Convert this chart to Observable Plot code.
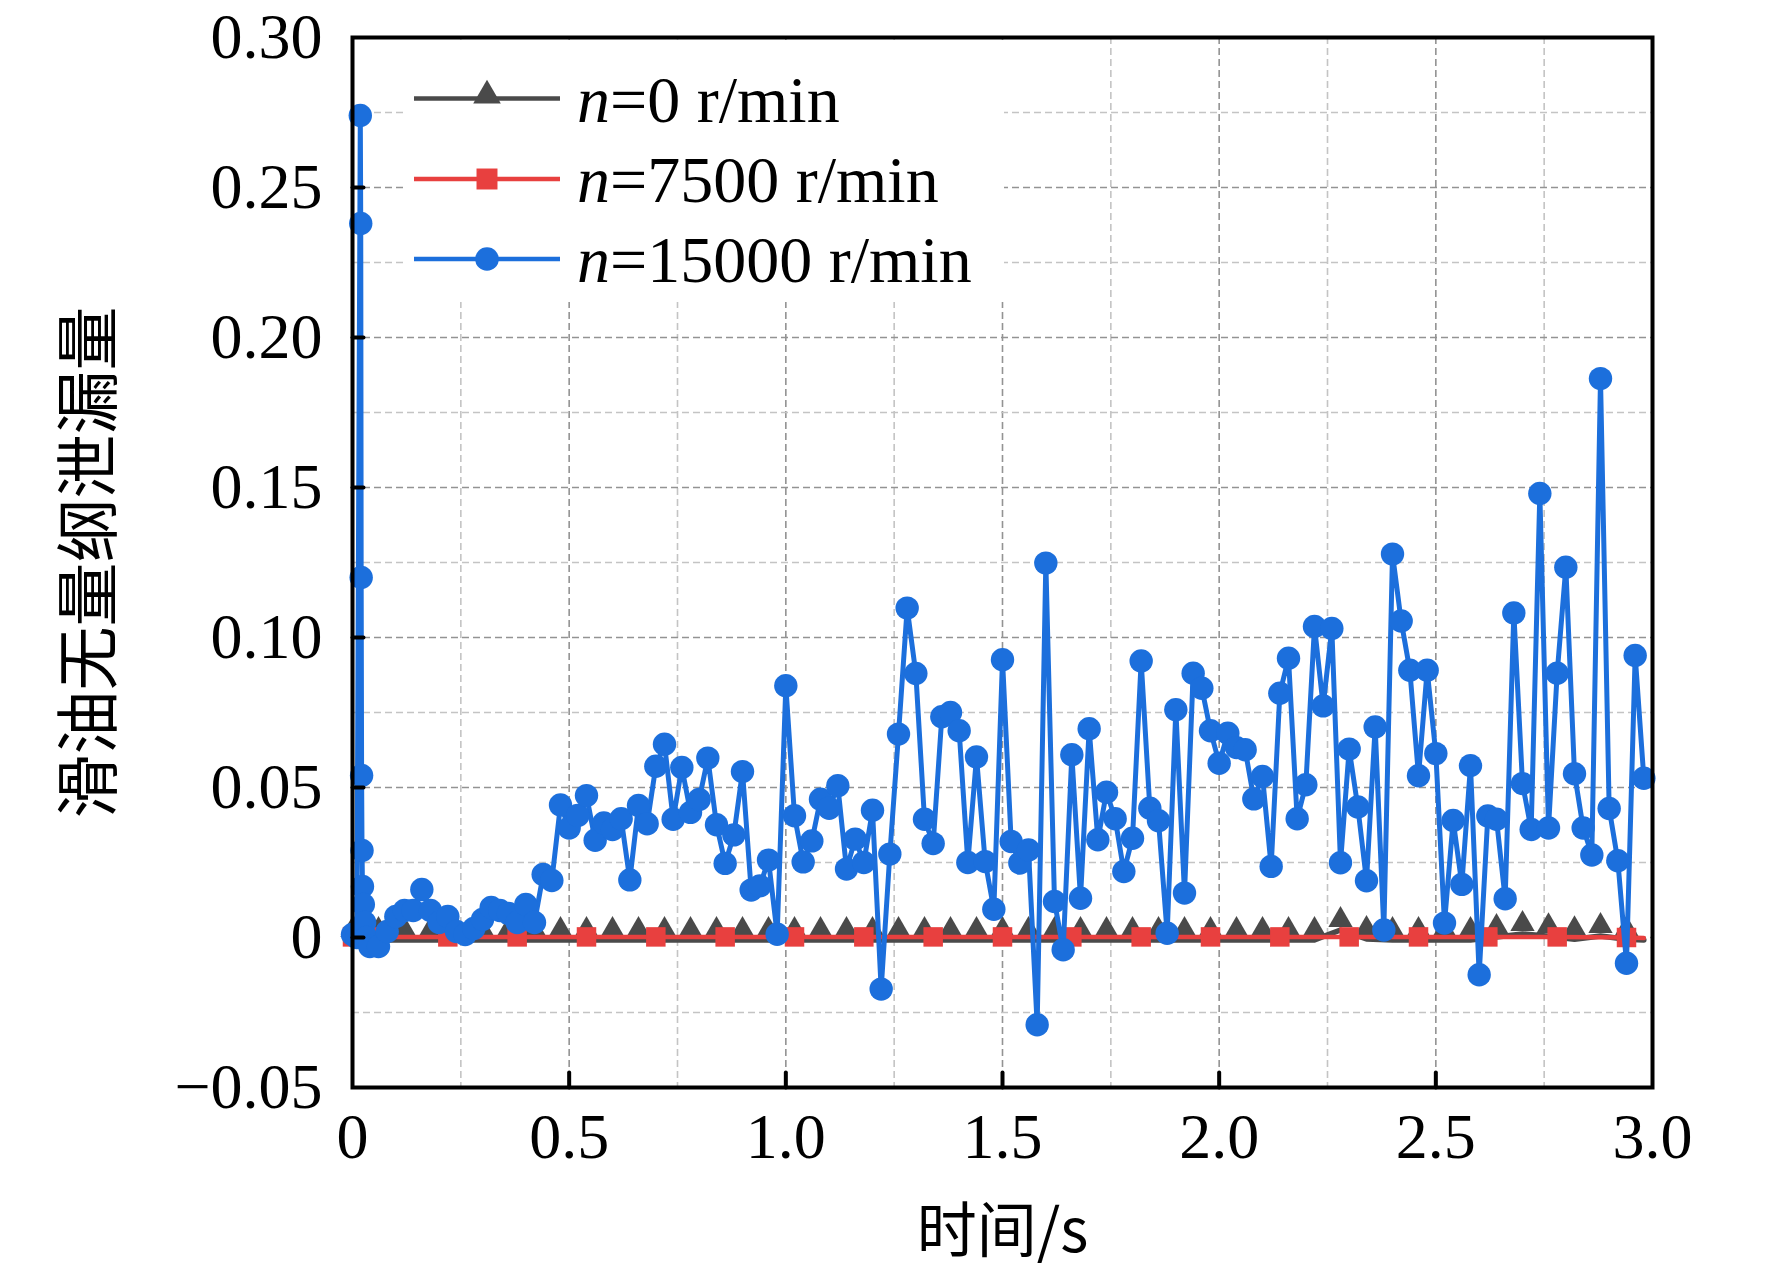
<!DOCTYPE html>
<html><head><meta charset="utf-8">
<script src="https://cdn.jsdelivr.net/npm/d3@7"></script>
<script src="https://cdn.jsdelivr.net/npm/@observablehq/plot@0.6"></script>
<style>
body{margin:0;background:#fff;}
#wrap{position:relative;width:1772px;height:1288px;overflow:hidden;}
#legend{position:absolute;left:407px;top:40px;width:597px;height:262px;background:#fff;}
</style></head>
<body><div id="wrap"><div id="chart"></div><div id="legend"></div></div>
<script>
// ---- data ----
const seriesNames = ["n=0 r/min", "n=7500 r/min", "n=15000 r/min"];
const xTickValues = [0, 0.5, 1.0, 1.5, 2.0, 2.5, 3.0];
const xTickLabels = ["0", "0.5", "1.0", "1.5", "2.0", "2.5", "3.0"];
const yTickValues = [-0.05, 0, 0.05, 0.10, 0.15, 0.20, 0.25, 0.30];
const yTickLabels = ["\u22120.05", "0", "0.05", "0.10", "0.15", "0.20", "0.25", "0.30"];
const xGridMajor = [0.5, 1.0, 1.5, 2.0, 2.5];
const xGridMinor = [0.25, 0.75, 1.25, 1.75, 2.25, 2.75];
const yGridMajor = [0, 0.05, 0.10, 0.15, 0.20, 0.25];
const yGridMinor = [-0.025, 0.025, 0.075, 0.125, 0.175, 0.225, 0.275];

// n = 0 r/min (gray, triangles)
const grayTime = [0,0.06,0.12,0.18,0.24,0.30,0.36,0.42,0.48,0.54,0.60,0.66,0.72,0.78,0.84,0.90,0.96,1.02,1.08,1.14,1.20,1.26,1.32,1.38,1.44,1.50,1.56,1.62,1.68,1.74,1.80,1.86,1.92,1.98,2.04,2.10,2.16,2.22,2.28,2.34,2.40,2.46,2.52,2.58,2.64,2.70,2.76,2.82,2.88,2.94,2.98];
const grayValue = [-0.0008,-0.0008,-0.0008,-0.0008,-0.0008,-0.0008,-0.0008,-0.0008,-0.0008,-0.0008,-0.0008,-0.0008,-0.0008,-0.0008,-0.0008,-0.0008,-0.0008,-0.0008,-0.0008,-0.0008,-0.0008,-0.0008,-0.0008,-0.0008,-0.0008,-0.0008,-0.0008,-0.0008,-0.0008,-0.0008,-0.0008,-0.0008,-0.0008,-0.0008,-0.0008,-0.0008,-0.0008,-0.0008,0.0025,-0.0005,-0.0008,-0.0008,-0.0008,-0.0008,0.0002,0.0012,0.0004,-0.0006,0.0005,-0.0006,-0.0008];
// n = 7500 r/min (red, squares)
const redTime = [0,0.06,0.22,0.38,0.54,0.70,0.86,1.02,1.18,1.34,1.50,1.66,1.82,1.98,2.14,2.30,2.46,2.62,2.78,2.94,2.98];
const redValue = [0.0002,0.0002,0.0002,0.0002,0.0002,0.0002,0.0002,0.0002,0.0002,0.0002,0.0002,0.0002,0.0002,0.0002,0.0002,0.0002,0.0002,0.0002,0.0002,0.0,-0.0002];
// n = 15000 r/min (blue, circles)
const blueTime = [0,0.01,0.018,0.019,0.020,0.021,0.022,0.023,0.025,0.028,0.032,0.04,0.06,0.08,0.10,0.12,0.14,0.16,0.18,0.20,0.22,0.24,0.26,0.28,0.30,0.32,0.34,0.36,0.38,0.40,0.42,0.44,0.46,
0.48,0.50,0.52,0.54,0.56,0.58,0.60,0.62,0.64,0.66,0.68,0.70,0.72,0.74,0.76,0.78,0.80,0.82,0.84,0.86,0.88,0.90,0.92,0.94,0.96,0.98,
1.00,1.02,1.04,1.06,1.08,1.10,1.12,1.14,1.16,1.18,1.20,1.22,1.24,1.26,1.28,1.30,1.32,1.34,1.36,1.38,1.40,1.42,1.44,1.46,1.48,
1.50,1.52,1.54,1.56,1.58,1.60,1.62,1.64,1.66,1.68,1.70,1.72,1.74,1.76,1.78,1.80,1.82,1.84,1.86,1.88,1.90,1.92,1.94,1.96,1.98,
2.00,2.02,2.04,2.06,2.08,2.10,2.12,2.14,2.16,2.18,2.20,2.22,2.24,2.26,2.28,2.30,2.32,2.34,2.36,2.38,2.40,2.42,2.44,2.46,2.48,
2.50,2.52,2.54,2.56,2.58,2.60,2.62,2.64,2.66,2.68,2.70,2.72,2.74,2.76,2.78,2.80,2.82,2.84,2.86,2.88,2.90,2.92,2.94,2.96,2.98];
const blueValue = [0.001,0.000,0.274,0.238,0.120,0.054,0.029,0.017,0.011,0.005,0.000,-0.003,-0.003,0.002,0.007,0.009,0.009,0.016,0.009,0.005,0.007,0.002,0.001,0.003,0.006,0.010,0.009,0.008,0.005,0.011,0.005,0.021,0.019,
0.0442,0.0365,0.0407,0.0473,0.0324,0.0382,0.0360,0.0396,0.0192,0.0440,0.0379,0.0571,0.0644,0.0394,0.0567,0.0417,0.0460,0.0598,0.0376,0.0247,0.0342,0.0553,0.0158,0.0172,0.0258,0.0011,
0.0839,0.0406,0.0252,0.0322,0.0461,0.0431,0.0506,0.0228,0.0328,0.0250,0.0424,-0.0172,0.0278,0.0678,0.1098,0.0880,0.0394,0.0313,0.0736,0.0750,0.0689,0.0250,0.0602,0.0253,0.0094,
0.0926,0.0320,0.0248,0.0292,-0.0291,0.1248,0.0120,-0.0041,0.0609,0.0131,0.0696,0.0326,0.0484,0.0396,0.0220,0.0331,0.0922,0.0431,0.0389,0.0014,0.0759,0.0148,0.0881,0.0831,0.0689,
0.0581,0.0681,0.0633,0.0626,0.0462,0.0537,0.0237,0.0814,0.0931,0.0396,0.0509,0.1037,0.0772,0.1030,0.0249,0.0628,0.0435,0.0189,0.0702,0.0025,0.1278,0.1055,0.0891,0.0539,0.0891,
0.0613,0.0048,0.0390,0.0177,0.0573,-0.0124,0.0405,0.0394,0.0129,0.1082,0.0513,0.0360,0.1480,0.0365,0.0881,0.1234,0.0546,0.0365,0.0275,0.1863,0.0430,0.0256,-0.0086,0.0940,0.0531];

const xTitle = "时间/s";
const yTitle = "滑油无量纲泄漏量";

// ---- styles ----
const grayC = "#4a4a4a", redC = "#e8403f", blueC = "#1c6fdc";
const serif = "'Liberation Serif','Times New Roman',serif";
const cjk = "'Noto Sans CJK SC',sans-serif";

const gray = grayTime.map((t, i) => ({t, v: grayValue[i]}));
const red = redTime.map((t, i) => ({t, v: redValue[i]}));
const blue = blueTime.map((t, i) => ({t, v: blueValue[i]}));

const xFmt = d => xTickLabels[xTickValues.indexOf(d)];
const yFmt = d => yTickLabels[yTickValues.indexOf(d)];
const dash = "7,4";
const tickShape = {draw(context, l) { context.moveTo(0, 0); context.lineTo(0, -l); }};

const chart = Plot.plot({
  width: 1772, height: 1288,
  marginLeft: 352, marginRight: 120, marginTop: 37, marginBottom: 201,
  style: {fontFamily: serif, fontSize: "64px", background: "#fff", color: "#000", overflow: "visible"},
  x: {domain: [0, 3]},
  y: {domain: [-0.05, 0.30]},
  marks: [
    Plot.gridX(xGridMinor, {stroke: "#c4c4c4", strokeOpacity: 1, strokeWidth: 1.6, strokeDasharray: dash}),
    Plot.gridX(xGridMajor, {stroke: "#939393", strokeOpacity: 1, strokeWidth: 1.6, strokeDasharray: dash}),
    Plot.gridY(yGridMinor, {stroke: "#c4c4c4", strokeOpacity: 1, strokeWidth: 1.6, strokeDasharray: dash}),
    Plot.gridY(yGridMajor, {stroke: "#939393", strokeOpacity: 1, strokeWidth: 1.6, strokeDasharray: dash}),
    Plot.line(gray, {x: "t", y: "v", stroke: grayC, strokeWidth: 5.5}),
    Plot.dot(gray.slice(0, -1), {x: "t", y: "v", symbol: "triangle", fill: grayC, r: 9, dy: -10}),
    Plot.line(red, {x: "t", y: "v", stroke: redC, strokeWidth: 4.5}),
    Plot.dot(red.slice(0, -1), {x: "t", y: "v", symbol: "square", fill: redC, r: 11}),
    Plot.line(blue, {x: "t", y: "v", stroke: blueC, strokeWidth: 5}),
    Plot.dot(blue, {x: "t", y: "v", fill: blueC, r: 11.7}),
    Plot.vector(xGridMajor, {x: d => d, frameAnchor: "bottom", length: 15, anchor: "start", shape: tickShape, stroke: "#000", strokeWidth: 4}),
    Plot.vector(yGridMajor, {y: d => d, frameAnchor: "left", length: 11, anchor: "start", rotate: 90, shape: tickShape, stroke: "#000", strokeWidth: 4}),
    Plot.axisX(xTickValues, {tickSize: 0, tickPadding: 25, tickFormat: xFmt, label: null, fontSize: 64}),
    Plot.axisY(yTickValues, {tickSize: 0, tickPadding: 30, tickFormat: yFmt, label: null, fontSize: 64}),
    Plot.frame({stroke: "#000", strokeWidth: 4}),
    Plot.text([xTitle], {text: d => d, frameAnchor: "bottom", textAnchor: "middle", lineAnchor: "middle", dy: 145, fontFamily: cjk, fontSize: 60}),
    Plot.text([yTitle], {text: d => d, frameAnchor: "left", textAnchor: "middle", lineAnchor: "middle", dx: -262, rotate: -90, fontFamily: cjk, fontSize: 64})
  ]
});
document.getElementById("chart").appendChild(chart);

// ---- legend ----
const legendItems = [
  {name: seriesNames[0], color: grayC, symbol: d3.symbolTriangle, size: 330},
  {name: seriesNames[1], color: redC, symbol: d3.symbolSquare, size: 440},
  {name: seriesNames[2], color: blueC, symbol: d3.symbolCircle, size: 440}
];
const rowY = [58.6, 139, 219];
const lsvg = d3.select("#legend").append("svg").attr("width", 597).attr("height", 262);
legendItems.forEach((it, i) => {
  const g = lsvg.append("g").attr("transform", `translate(0,${rowY[i]})`);
  g.append("line").attr("x1", 7).attr("x2", 153).attr("stroke", it.color).attr("stroke-width", 4.5);
  g.append("path").attr("d", d3.symbol(it.symbol, it.size)()).attr("fill", it.color)
    .attr("transform", `translate(80,${it.symbol === d3.symbolTriangle ? -3 : 0})`);
  const t = g.append("text").attr("x", 170).attr("y", 23)
    .attr("font-family", serif).attr("font-size", 66).attr("fill", "#000");
  t.append("tspan").attr("font-style", "italic").text(it.name.slice(0, 1));
  t.append("tspan").text(it.name.slice(1));
});
</script>
</body></html>
